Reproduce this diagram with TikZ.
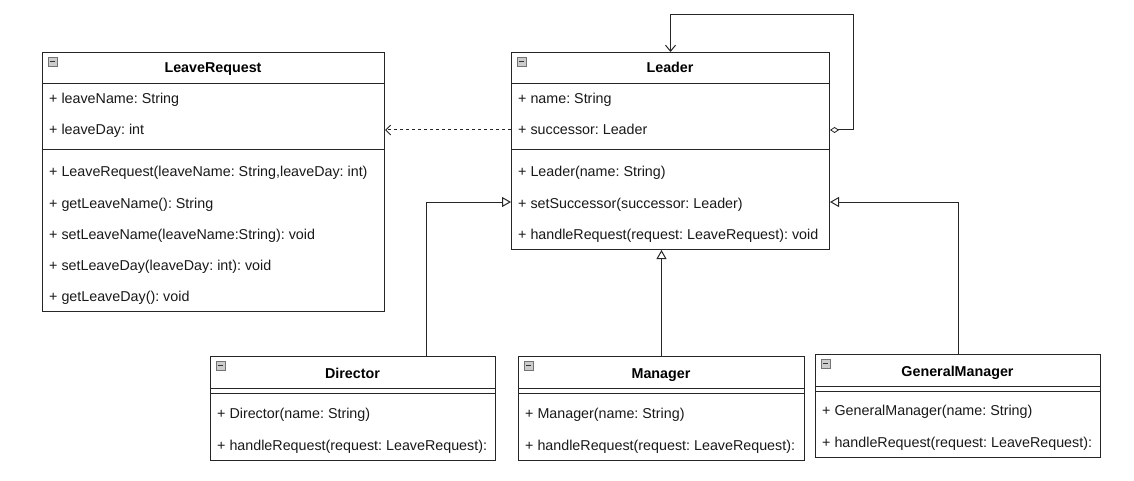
\documentclass[tikz,border=0pt]{standalone}
\usepackage{fontspec}
\setmainfont{Liberation Sans}
\usetikzlibrary{arrows.meta}
\frenchspacing
\tikzset{
  box/.style={draw=black!85, line width=1pt, anchor=north west, inner sep=0pt, fill=white},
  row/.style={anchor=base west, inner sep=0pt, font=\fontsize{14.3}{16}\selectfont, text=black!90},
  title/.style={anchor=base, inner sep=0pt, font=\bfseries\fontsize{14.3}{16}\selectfont},
  sep/.style={draw=black!85, line width=1pt},
  conn/.style={draw=black!85, line width=1pt},
  icon/.style={draw=black!55, fill=black!20, line width=0.6pt, minimum size=9pt, inner sep=0pt, anchor=north west},
}
\newcommand{\minusicon}[2]{%
  \node[icon] (#1) at (#2) {};
  \draw[line width=1.3pt, black!80] ([xshift=2.5pt]#1.center) -- ([xshift=-2.5pt]#1.center);
}
\begin{document}
\begin{tikzpicture}[x=1pt,y=-1pt]
\useasboundingbox[fill=white] (0,0) rectangle (1134,481);

% LeaveRequest
\node[box, minimum width=342pt, minimum height=259pt] (LR) at (42,52) {};
\draw[sep] (42,84) -- (384,84);
\draw[sep] (42,150) -- (384,150);
\minusicon{LRi}{48,57}
\node[title] (LRt) at (213,73) {LeaveRequest};
\node[row] (LRa1) at (49,104) {+ leaveName: String};
\node[row] (LRa2) at (49,135) {+ leaveDay: int};
\node[row] (LRm1) at (49,176) {+ LeaveRequest(leaveName: String,leaveDay: int)};
\node[row] (LRm2) at (49,208) {+ getLeaveName(): String};
\node[row] (LRm3) at (49,239) {+ setLeaveName(leaveName:String): void};
\node[row] (LRm4) at (49,270) {+ setLeaveDay(leaveDay: int): void};
\node[row] (LRm5) at (49,301) {+ getLeaveDay(): void};

% Leader
\node[box, minimum width=318pt, minimum height=197pt] (L) at (511,52) {};
\draw[sep] (511,84) -- (829,84);
\draw[sep] (511,150) -- (829,150);
\minusicon{Li}{517,57}
\node[title] (Lt) at (670,73) {Leader};
\node[row] (La1) at (518,104) {+ name: String};
\node[row] (La2) at (518,135) {+ successor: Leader};
\node[row] (Lm1) at (518,176) {+ Leader(name: String)};
\node[row] (Lm2) at (518,208) {+ setSuccessor(successor: Leader)};
\node[row] (Lm3) at (518,239) {+ handleRequest(request: LeaveRequest): void};
\coordinate (Lsucc) at (670,130);
\coordinate (Lset) at (670,202);

% Director
\node[box, minimum width=285pt, minimum height=104pt] (D) at (210,356) {};
\draw[sep] (210,388) -- (495,388);
\draw[sep] (210,393) -- (495,393);
\minusicon{Di}{216,361}
\node[title] (Dt) at (352.5,378) {Director};
\node[row] (Dm1) at (217,418) {+ Director(name: String)};
\node[row] (Dm2) at (217,450) {+ handleRequest(request: LeaveRequest):};

% Manager
\node[box, minimum width=286pt, minimum height=104pt] (M) at (518,356) {};
\draw[sep] (518,388) -- (804,388);
\draw[sep] (518,393) -- (804,393);
\minusicon{Mi}{524,361}
\node[title] (Mt) at (661,378) {Manager};
\node[row] (Mm1) at (525,418) {+ Manager(name: String)};
\node[row] (Mm2) at (525,450) {+ handleRequest(request: LeaveRequest):};

% GeneralManager
\node[box, minimum width=285pt, minimum height=103pt] (G) at (815,354) {};
\draw[sep] (815,386) -- (1100,386);
\draw[sep] (815,391) -- (1100,391);
\minusicon{Gi}{821,359}
\node[title] (Gt) at (957.5,376) {GeneralManager};
\node[row] (Gm1) at (822,415) {+ GeneralManager(name: String)};
\node[row] (Gm2) at (822,447) {+ handleRequest(request: LeaveRequest):};

% connectors
\draw[conn, dash pattern=on 3pt off 3pt, -{Straight Barb[length=5pt,width=10pt,line width=1pt]}]
  (L.west |- Lsucc) -- (LR.east |- Lsucc);
\coordinate (loop) at (853,15);
\draw[conn, {Diamond[open,length=9pt,width=6pt,line width=0.8pt]}-{Straight Barb[length=6pt,width=10pt,line width=1pt]}]
  (L.east |- Lsucc) -| (loop) -| (L.north);
\draw[conn, -{Triangle[open,length=9pt,width=10pt,line width=1pt]}]
  ([xshift=-70pt]D.north east) |- (L.west |- Lset);
\draw[conn, -{Triangle[open,length=9pt,width=10pt,line width=1pt]}]
  (M.north) -- (M.north |- L.south);
\draw[conn, -{Triangle[open,length=9pt,width=10pt,line width=1pt]}]
  (G.north) |- (L.east |- Lset);
\end{tikzpicture}
\end{document}
